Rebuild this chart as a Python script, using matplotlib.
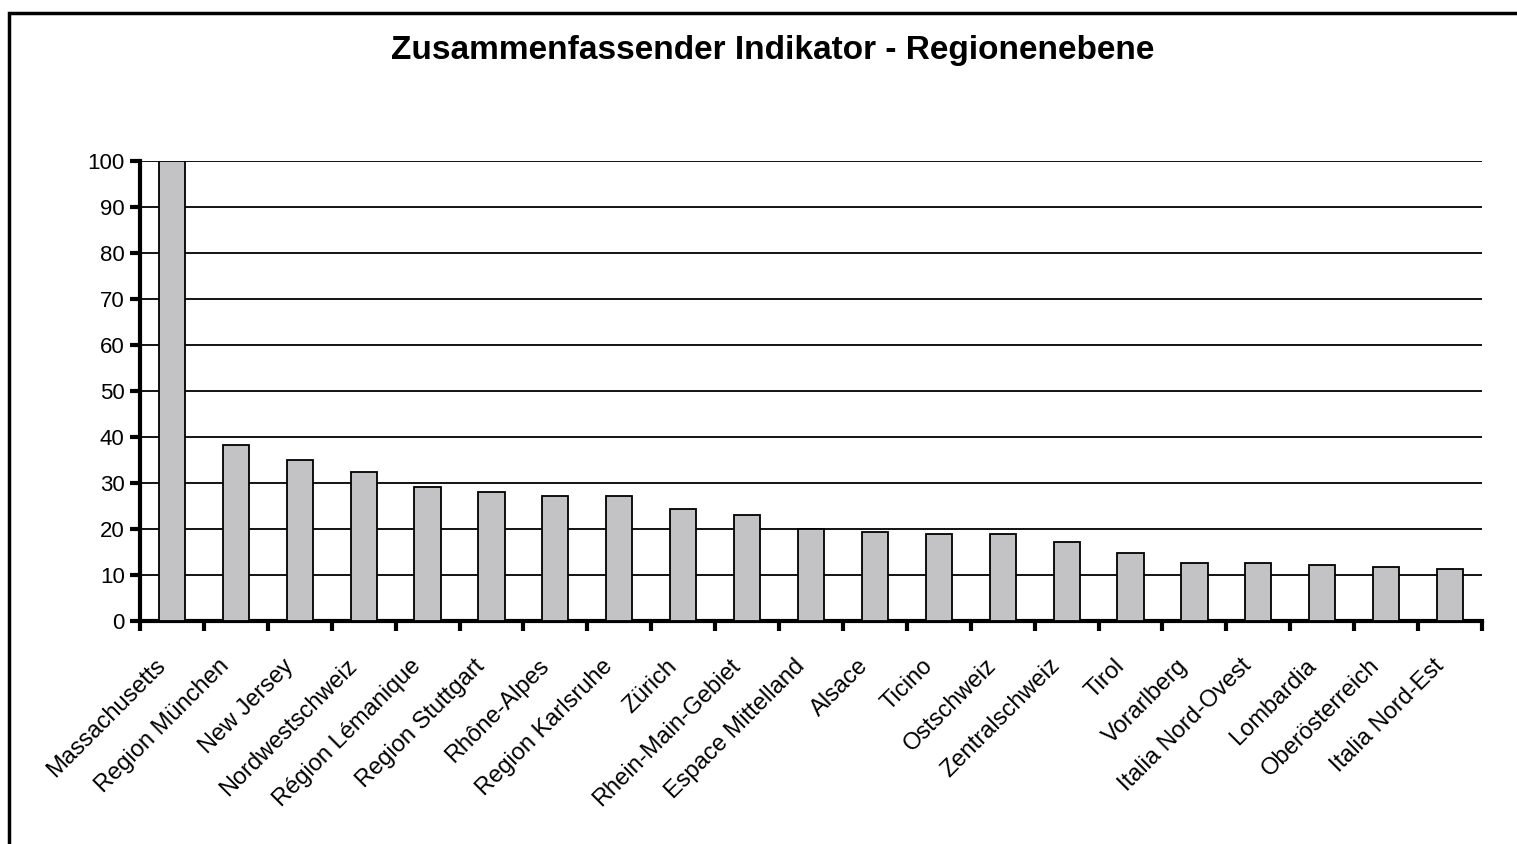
import numpy as np
import matplotlib
matplotlib.use("Agg")
import matplotlib.pyplot as plt
from matplotlib.patches import Rectangle

# Region names and indicator values
regions = ["Massachusetts", "Region München", "New Jersey", "Nordwestschweiz",
           "Région Lémanique", "Region Stuttgart", "Rhône-Alpes", "Region Karlsruhe",
           "Zürich", "Rhein-Main-Gebiet", "Espace Mittelland", "Alsace", "Ticino",
           "Ostschweiz", "Zentralschweiz", "Tirol", "Vorarlberg", "Italia Nord-Ovest",
           "Lombardia", "Oberösterreich", "Italia Nord-Est"]
values = [100, 38.3, 35.0, 32.5, 29.2, 28.1, 27.2, 27.2, 24.3, 23.0, 19.9,
          19.3, 18.9, 18.9, 17.2, 14.8, 12.6, 12.6, 12.1, 11.7, 11.3]
yticks = list(range(0, 101, 10))

plt.rcParams['font.family'] = ['Liberation Sans', 'DejaVu Sans']

W, H = 1517, 844
fig = plt.figure(figsize=(W / 100, H / 100), dpi=100)

# outer chart frame (cropped at right and bottom in the original)
fig.patches.append(Rectangle((9 / W, -0.05), 1.2, 1 - 13 / H + 0.05,
                             transform=fig.transFigure, fill=False,
                             edgecolor='black', linewidth=2.5))

ax = fig.add_axes([140 / W, 1 - 621 / H, (1482 - 140) / W, (621 - 161) / H])

x = np.arange(len(regions))
ax.bar(x, values, width=0.41, color='#c3c3c6', edgecolor='black', linewidth=1.3, zorder=3)

ax.set_ylim(0, 100)
ax.set_xlim(-0.5, len(regions) - 0.5)
ax.set_yticks(yticks)
ax.set_yticklabels([str(t) for t in yticks], fontsize=16)
ax.yaxis.grid(True, color='black', linewidth=1.3, zorder=0)
ax.set_axisbelow(True)

# category ticks sit between bars, labels are placed under each bar
ax.set_xticks(np.arange(-0.5, len(regions), 1.0))
ax.set_xticklabels([])
for i, name in enumerate(regions):
    ax.annotate(name, xy=(x[i], 0), xycoords=ax.get_xaxis_transform(),
                xytext=(-7, -30), textcoords='offset points',
                rotation=45, ha='right', va='center', rotation_mode='anchor',
                fontsize=17)
ax.tick_params(axis='x', which='major', length=7, width=3, direction='out')
ax.tick_params(axis='y', length=7, width=3, direction='out', pad=4)

for s in ['top', 'right']:
    ax.spines[s].set_visible(False)
ax.spines['left'].set_linewidth(3)
ax.spines['bottom'].set_linewidth(3)

fig.text(773 / W, 1 - 51 / H, "Zusammenfassender Indikator - Regionenebene",
         ha='center', va='center', fontsize=24, fontweight='bold')

fig.savefig("out.png", dpi=100)
